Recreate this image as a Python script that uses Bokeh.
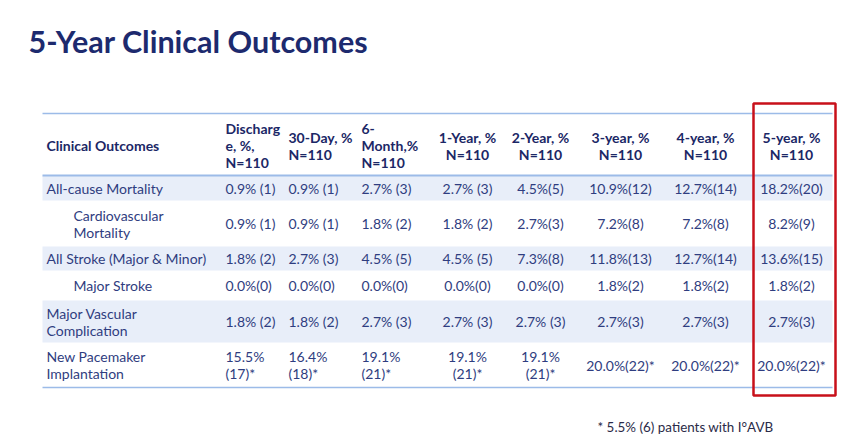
from bokeh.plotting import figure
from bokeh.models import Range1d
from bokeh.core.properties import value
from bokeh.embed import file_html
from bokeh.resources import INLINE

title = "5-Year Clinical Outcomes"
headers = ["Clinical Outcomes", "Discharg\ne, %,\nN=110", "30-Day, %\nN=110", "6-\nMonth,%\nN=110",
           "1-Year, %\nN=110", "2-Year, %\nN=110", "3-year, %\nN=110", "4-year, %\nN=110", "5-year, %\nN=110"]
outcomes = ["All-cause Mortality", "Cardiovascular\nMortality", "All Stroke (Major & Minor)",
            "Major Stroke", "Major Vascular\nComplication", "New Pacemaker\nImplantation"]
indented = [False, True, False, True, False, False]
discharge = ["0.9% (1)", "0.9% (1)", "1.8% (2)", "0.0%(0)", "1.8% (2)", "15.5%\n(17)*"]
day30 = ["0.9% (1)", "0.9% (1)", "2.7% (3)", "0.0%(0)", "1.8% (2)", "16.4%\n(18)*"]
month6 = ["2.7% (3)", "1.8% (2)", "4.5% (5)", "0.0%(0)", "2.7% (3)", "19.1%\n(21)*"]
year1 = ["2.7% (3)", "1.8% (2)", "4.5% (5)", "0.0%(0)", "2.7% (3)", "19.1%\n(21)*"]
year2 = ["4.5%(5)", "2.7%(3)", "7.3%(8)", "0.0%(0)", "2.7% (3)", "19.1%\n(21)*"]
year3 = ["10.9%(12)", "7.2%(8)", "11.8%(13)", "1.8%(2)", "2.7%(3)", "20.0%(22)*"]
year4 = ["12.7%(14)", "7.2%(8)", "12.7%(14)", "1.8%(2)", "2.7%(3)", "20.0%(22)*"]
year5 = ["18.2%(20)", "8.2%(9)", "13.6%(15)", "1.8%(2)", "2.7%(3)", "20.0%(22)*"]
footnote = "* 5.5% (6) patients with I\u00b0AVB"

# layout (screen pixels)
row_edges = [113, 175, 200, 246, 270, 300, 342, 387]
table_left, table_right = 42, 832
col_x = [46, 225, 288, 361, 467, 540, 620, 705, 791]
col_align = ["left", "left", "left", "left", "center", "center", "center", "center", "center"]
indent_x = 73
highlight = (753, 835, 103, 395)

FONT = "Lato"
NAVY = "#1b2766"
TEXT = "#2f3d80"

W, H = 866, 441
p = figure(width=W, height=H, x_range=Range1d(0, W), y_range=Range1d(H, 0),
           output_backend="svg", toolbar_location=None, min_border=0)
p.axis.visible = False
p.grid.visible = False
p.outline_line_color = None
p.background_fill_color = "white"
p.border_fill_color = "white"

# shaded rows
shade_rows = [0, 2, 4]
p.quad(left=[table_left] * len(shade_rows), right=[table_right] * len(shade_rows),
       top=[row_edges[i + 1] for i in shade_rows], bottom=[row_edges[i + 2] for i in shade_rows],
       fill_color="#e8eef9", line_color=None)

# horizontal rules
p.segment(x0=[table_left] * 3, x1=[table_right] * 3,
          y0=[row_edges[0], row_edges[1], row_edges[-1]], y1=[row_edges[0], row_edges[1], row_edges[-1]],
          line_color="#9cbbe8", line_width=[1.5, 2, 1.5])

# title
p.text(x=[28], y=[40], text=[title], text_font=value(FONT), text_font_style="bold",
       text_font_size="30.5px", text_color="#1d2a6e", text_baseline="alphabetic", text_align="left")

# header
hy = (row_edges[0] + row_edges[1]) / 2 + 1
for j, h in enumerate(headers):
    p.text(x=[col_x[j]], y=[hy], text=[h], text_font=value(FONT), text_font_style="bold",
           text_font_size="14px", text_color=NAVY, text_baseline="middle", text_align=col_align[j],
           text_line_height=1.0)

# body
columns = [discharge, day30, month6, year1, year2, year3, year4, year5]
for i, lab in enumerate(outcomes):
    cy = (row_edges[i + 1] + row_edges[i + 2]) / 2
    lx = indent_x if indented[i] else col_x[0]
    p.text(x=[lx], y=[cy], text=[lab], text_font=value(FONT), text_font_size="14px",
           text_color=TEXT, text_baseline="middle", text_align="left", text_line_height=1.0)
    for j, col in enumerate(columns):
        p.text(x=[col_x[j + 1]], y=[cy], text=[col[i]], text_font=value(FONT), text_font_size="14px",
               text_color=TEXT, text_baseline="middle", text_align=col_align[j + 1],
               text_line_height=1.0)

# red highlight box
hl, hr, ht, hb = highlight
p.quad(left=[hl], right=[hr], top=[ht], bottom=[hb], fill_color=None,
       line_color="#c8101a", line_width=2.5)

# footnote
p.text(x=[597], y=[426], text=[footnote], text_font=value(FONT), text_font_size="13.4px",
       text_color="#2b2b48", text_baseline="middle", text_align="left")

open("out.html", "w").write(file_html(p, INLINE))
